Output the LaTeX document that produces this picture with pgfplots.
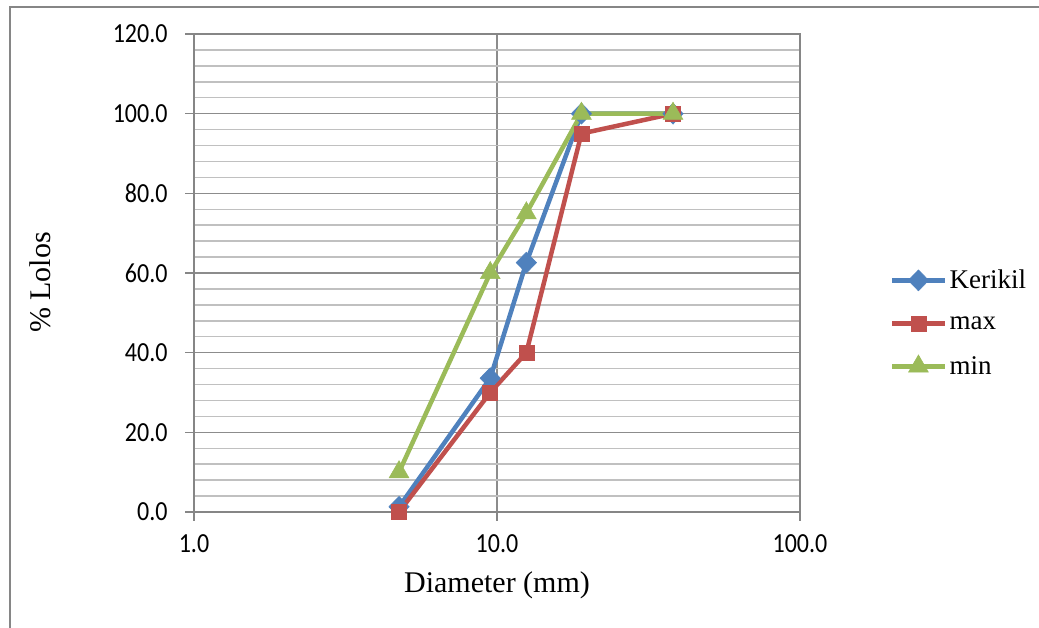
\documentclass[border=0pt]{standalone}
\usepackage{pgfplots}
\pgfplotsset{compat=1.18}
\usepackage{fontspec}
\setmainfont{Liberation Serif}
\newfontfamily\calibri{Carlito}
\definecolor{cblue}{HTML}{4F81BD}
\definecolor{cred}{HTML}{C0504D}
\definecolor{cgreen}{HTML}{9BBB59}
\definecolor{axgray}{HTML}{868686}
\definecolor{majgrid}{HTML}{8C8C8C}
\definecolor{mingrid}{HTML}{C0C0C0}
\begin{document}
\begin{tikzpicture}[x=1pt,y=1pt]
\path[use as bounding box] (0,0) rectangle (1039,628);
\draw[axgray, line width=1.2pt] (10,-5) -- (10,621) -- (1045,621);
\begin{axis}[
  at={(194pt,116pt)}, anchor=south west,
  width=606pt, height=478pt, scale only axis,
  xmode=log, log basis x=10,
  xmin=1, xmax=100, ymin=0, ymax=120,
  xtick={1,10,100}, xticklabels={1.0,10.0,100.0},
  ytick={0,20,40,60,80,100,120},
  yticklabels={0.0,20.0,40.0,60.0,80.0,100.0,120.0},
  minor y tick num=4,
  grid=both,
  major grid style={majgrid, line width=1.5pt},
  minor grid style={mingrid, line width=1.5pt},
  axis line style={axgray, line width=1.5pt},
  tick align=outside, tick pos=left,
  major tick length=9pt, minor tick length=0pt,
  every tick/.style={axgray, line width=1.2pt},
  ticklabel style={font=\calibri\fontsize{24}{28}\selectfont, yscale=1.15},
  yticklabel style={xshift=-14pt},
  xticklabel style={yshift=-8pt},
  xlabel={Diameter (mm)},
  ylabel={\% Lolos},
  label style={font=\fontsize{30}{34}\selectfont},
  xlabel style={at={(axis description cs:0.5,-0.153)}, anchor=center},
  ylabel style={at={(axis description cs:-0.254,0.48)}, anchor=center},
  legend style={at={(1.1485,0.395)}, anchor=west, draw=none, fill=none,
    inner sep=0pt, row sep=22pt, font=\fontsize{27}{30}\selectfont,
    cells={anchor=west}},
  legend image code/.code={%
    \draw[#1, mark repeat=2, mark phase=2] plot coordinates {(0pt,0pt) (26pt,0pt) (53pt,0pt)};},
  every axis plot/.append style={line width=4.5pt},
  clip=false,
]
\addplot[cblue, mark=diamond*, mark size=10.5pt, mark options={solid, xscale=1.3, line width=0.5pt}]
  coordinates {(4.75,1.3) (9.5,33.6) (12.5,62.6) (19,100) (38.1,100)};
\addlegendentry{Kerikil}
\addplot[cred, mark=square*, mark size=7.5pt, mark options={solid, line width=0.5pt}]
  coordinates {(4.75,0) (9.5,30) (12.5,40) (19,95) (38.1,100)};
\addlegendentry{max}
\addplot[cgreen, mark=triangle*, mark size=11.5pt, mark options={solid, line width=0.5pt}]
  coordinates {(4.75,10) (9.5,60) (12.5,75) (19,100) (38.1,100)};
\addlegendentry{min}
\end{axis}
\end{tikzpicture}
\end{document}
